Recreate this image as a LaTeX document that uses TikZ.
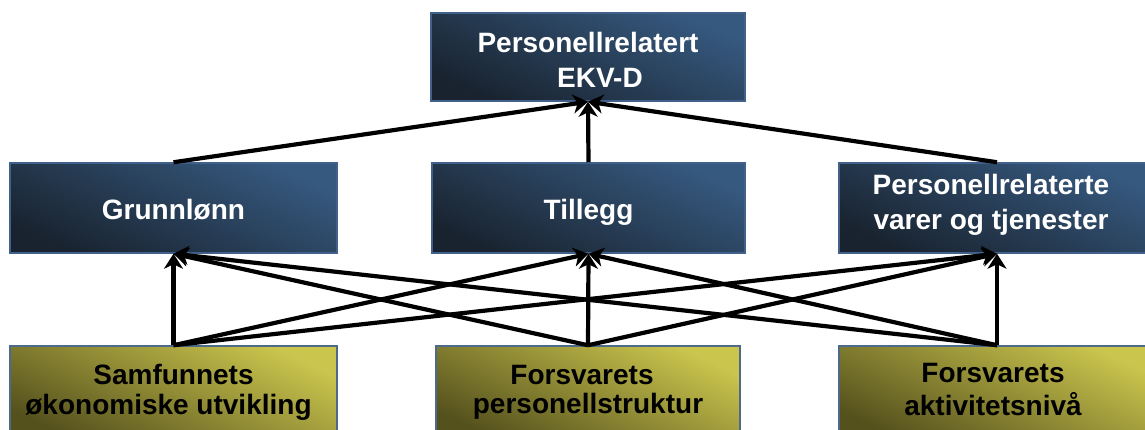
\documentclass[tikz,border=0pt]{standalone}
\usepackage{fontspec}
\setmainfont{Liberation Sans}
\usetikzlibrary{arrows.meta}
\definecolor{blueL}{HTML}{36597F}
\definecolor{blueD}{HTML}{19232F}
\definecolor{blueB}{HTML}{41618A}
\definecolor{yelL}{HTML}{CAC54D}
\definecolor{yelD}{HTML}{55511D}
\definecolor{yelB}{HTML}{4E6A8A}
\begin{document}
\begin{tikzpicture}[x=1pt,y=1pt,
  bluebox/.style={draw=blueB, line width=1.5pt, top color=blueL, bottom color=blueD, shading angle=-25, inner sep=0pt, minimum height=90pt},
  yelbox/.style={draw=yelB, line width=1.5pt, top color=yelL, bottom color=yelD, shading angle=-25, inner sep=0pt, minimum height=94pt},
  wtxt/.style={text=white, align=center, inner sep=0pt, font=\fontsize{28}{35}\selectfont\bfseries},
  btxt/.style={text=black, align=center, inner sep=0pt, font=\fontsize{28}{28}\selectfont\bfseries},
  arr/.style={line width=4.2pt, -{Stealth[length=15pt,width=19pt,inset=4.5pt]}}]
\useasboundingbox (0,0) rectangle (1145,430);
\clip (0,0) rectangle (1145,430);
% boxes
\node[bluebox, minimum width=314pt, minimum height=88pt] (top) at (588,373) {};
\node[bluebox, minimum width=327pt] (midL) at (173.5,222) {};
\node[bluebox, minimum width=313pt] (midC) at (588.5,222) {};
\node[bluebox, minimum width=316pt] (midR) at (997,222) {};
\node[yelbox, minimum width=327pt] (botL) at (173.5,37) {};
\node[yelbox, minimum width=304pt] (botC) at (588,37) {};
\node[yelbox, minimum width=316pt] (botR) at (997,37) {};
% texts
\node[wtxt] (ttop) at (588,366.5) {\strut Personellrelatert\\\strut\hspace*{24pt}EKV-D};
\node[wtxt] (tL) at (173.5,217) {\strut Grunnlønn};
\node[wtxt] (tC) at (588.5,217) {\strut Tillegg};
\node[wtxt] (tR) at (991,224.5) {\strut Personellrelaterte\\\strut varer og tjenester};
\node[btxt] (bL) at (173.5,36.6) {\strut Samfunnets\\\strut økonomiske utvikling\hspace*{10pt}};
\node[btxt] (bC) at (588,36.6) {\strut Forsvarets\hspace*{12pt}\\\strut personellstruktur};
\node[btxt] (bR) at (993,36.6) {\strut Forsvarets\\\strut aktivitetsnivå};
% connectors
\foreach \b in {botL,botC,botR}{
  \foreach \m in {midL,midC,midR}{
    \draw[arr] (\b.north) -- (\m.south);
  }
}
\foreach \m in {midL,midC,midR}{
  \draw[arr] (\m.north) -- (top.south);
}
\end{tikzpicture}
\end{document}
